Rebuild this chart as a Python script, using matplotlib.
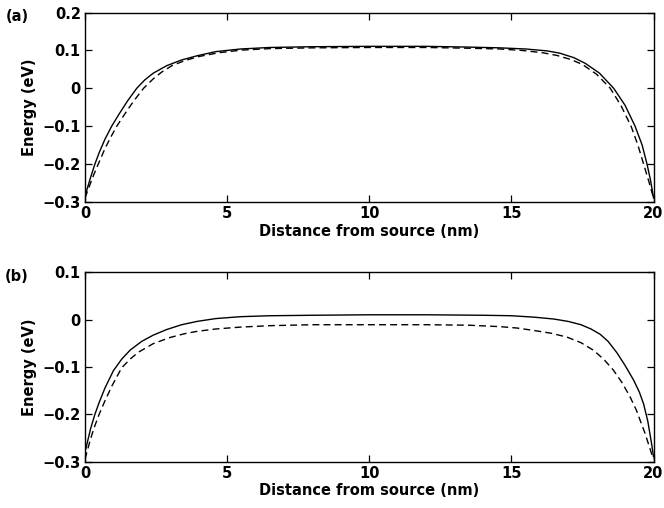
import matplotlib
matplotlib.use('Agg')
import matplotlib.pyplot as plt

### DATA ###
# panel (a)
xa_solid = [0, 0.1, 0.2, 0.35, 0.5, 0.7, 0.94, 1.2, 1.5, 1.82, 2.1, 2.4, 2.88, 3.4, 3.94, 4.6, 5.47, 6.5, 8, 10,
            12, 13.5, 14.6, 15.5, 16.25, 16.7, 17.2, 17.6, 18.1, 18.6, 19.0, 19.35, 19.6, 19.77, 19.9, 20]
ya_solid = [-0.285, -0.26, -0.235, -0.2, -0.17, -0.135, -0.1, -0.068, -0.033, 0.0, 0.022, 0.04, 0.06, 0.075,
            0.086, 0.097, 0.104, 0.108, 0.110, 0.111, 0.111, 0.109, 0.107, 0.104, 0.099, 0.093, 0.081, 0.066,
            0.04, 0.0, -0.045, -0.1, -0.15, -0.2, -0.245, -0.29]
xa_dash = [0, 0.15, 0.3, 0.47, 0.7, 0.9, 1.12, 1.4, 1.7, 2.06, 2.4, 2.7, 3.06, 3.5, 4.0, 4.7, 5.5, 6.5, 8, 10,
           12, 13.5, 14.6, 15.4, 16.1, 16.6, 17.1, 17.5, 18.0, 18.48, 18.85, 19.21, 19.45, 19.65, 19.85, 20]
ya_dash = [-0.29, -0.26, -0.23, -0.2, -0.16, -0.13, -0.1, -0.068, -0.035, 0.0, 0.025, 0.043, 0.06, 0.073,
           0.084, 0.094, 0.101, 0.105, 0.107, 0.108, 0.108, 0.106, 0.104, 0.1, 0.094, 0.087, 0.076, 0.063,
           0.037, 0.0, -0.045, -0.1, -0.15, -0.2, -0.25, -0.29]

# panel (b)
xb_solid = [0, 0.1, 0.2, 0.35, 0.5, 0.7, 1.0, 1.3, 1.6, 2.0, 2.4, 2.88, 3.4, 3.94, 4.6, 5.47, 6.5, 8, 10,
            12, 14, 15, 15.8, 16.5, 17.0, 17.45, 17.8, 18.12, 18.4, 18.71, 19.0, 19.3, 19.5, 19.65, 19.8, 19.94, 20]
yb_solid = [-0.28, -0.255, -0.23, -0.2, -0.175, -0.145, -0.108, -0.083, -0.064, -0.046, -0.033, -0.021,
            -0.011, -0.004, 0.002, 0.006, 0.008, 0.009, 0.01, 0.01, 0.009, 0.008, 0.005, 0.001, -0.004,
            -0.011, -0.02, -0.031, -0.046, -0.07, -0.097, -0.128, -0.153, -0.178, -0.215, -0.265, -0.29]
xb_dash = [0, 0.15, 0.3, 0.5, 0.7, 0.95, 1.29, 1.6, 1.88, 2.4, 2.99, 3.5, 3.94, 4.6, 5.47, 6.5, 8, 10,
           12, 13.5, 14.6, 15.2, 15.78, 16.4, 16.95, 17.45, 17.89, 18.25, 18.59, 18.9, 19.18, 19.4, 19.53,
           19.7, 19.85, 19.94, 20]
yb_dash = [-0.295, -0.262, -0.232, -0.2, -0.172, -0.14, -0.102, -0.083, -0.069, -0.051, -0.038, -0.030,
           -0.025, -0.02, -0.016, -0.013, -0.011, -0.011, -0.011, -0.012, -0.015, -0.018, -0.023, -0.029,
           -0.037, -0.049, -0.065, -0.084, -0.107, -0.134, -0.164, -0.192, -0.213, -0.24, -0.268, -0.285, -0.295]

panels = [
    {'tag': '(a)', 'ylim': (-0.3, 0.2), 'yticks': [-0.3, -0.2, -0.1, 0, 0.1, 0.2],
     'ytl': ['\u22120.3', '\u22120.2', '\u22120.1', '0', '0.1', '0.2'],
     'solid': (xa_solid, ya_solid), 'dash': (xa_dash, ya_dash)},
    {'tag': '(b)', 'ylim': (-0.3, 0.1), 'yticks': [-0.3, -0.2, -0.1, 0, 0.1],
     'ytl': ['\u22120.3', '\u22120.2', '\u22120.1', '0', '0.1'],
     'solid': (xb_solid, yb_solid), 'dash': (xb_dash, yb_dash)},
]

xticks = [0, 5, 10, 15, 20]

### FIGURE ###
plt.rcParams['font.family'] = ['DejaVu Sans']
plt.rcParams['font.weight'] = 'bold'
fig = plt.figure(figsize=(6.64, 5.08), dpi=100)

W, H = 664.0, 508.0
boxes = [(85, 12.7, 653.5, 201.7), (85, 272.2, 653.5, 461.5)]

for p, (l, t, r, b) in zip(panels, boxes):
    ax = fig.add_axes([l / W, 1 - b / H, (r - l) / W, (b - t) / H])
    ax.plot(*p['solid'], color='black', lw=1.0)
    ax.plot(*p['dash'], color='black', lw=1.0, dashes=(5, 3))
    ax.set_xlim(0, 20)
    ax.set_ylim(*p['ylim'])
    ax.set_xticks(xticks)
    ax.set_xticklabels([str(v) for v in xticks])
    ax.set_yticks(p['yticks'])
    ax.set_yticklabels(p['ytl'])
    ax.tick_params(direction='in', top=True, right=True, length=5, width=0.9,
                   labelsize=10.5, pad=3)
    for s in ax.spines.values():
        s.set_linewidth(1.0)
    ax.set_xlabel('Distance from source (nm)', fontsize=10.5, fontweight='bold', labelpad=2)
    ax.set_ylabel('Energy (eV)', fontsize=10.5, fontweight='bold', labelpad=4)
    fig.text(17 / W, 1 - (t + 4) / H, p['tag'], fontsize=10.5, ha='center', va='center')

fig.savefig('out.png', dpi=100)
